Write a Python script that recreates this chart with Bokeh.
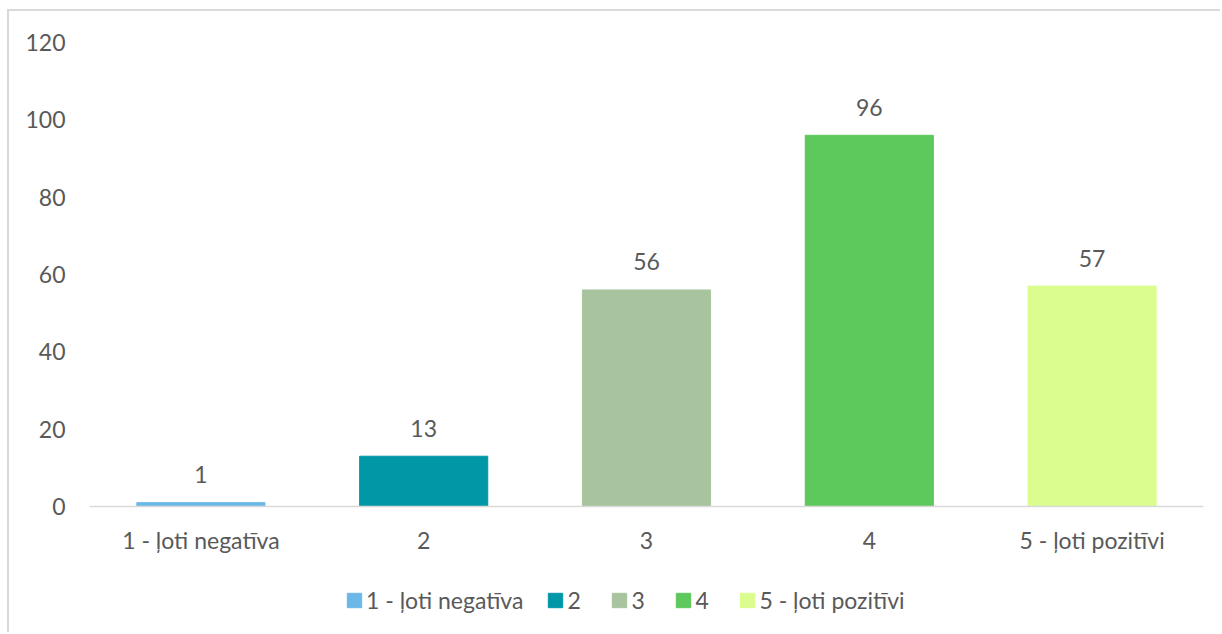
from bokeh.plotting import figure
from bokeh.models import ColumnDataSource, FactorRange, Range1d, Legend, LegendItem
from bokeh.core.properties import value
from bokeh.embed import file_html
from bokeh.resources import INLINE

categories = ["1 - ļoti negatīva", "2", "3", "4", "5 - ļoti pozitīvi"]
counts = [1, 13, 56, 96, 57]
colors = ["#6BB8E8", "#0097A7", "#A8C49E", "#5DC85B", "#DBFD8E"]
y_ticks = [0, 20, 40, 60, 80, 100, 120]

FONT = "Lato"
FS = "23px"
TXT = "#595959"

# layout (pixels)
W, H = 1213, 623
B_LEFT, B_RIGHT, B_TOP, B_BOTTOM = 80, 19, 31, 0
PX_PER_UNIT = 464 / 120.0
frame_h = H - B_TOP - B_BOTTOM
y_top = 120
y_bottom = y_top - frame_h / PX_PER_UNIT

src = ColumnDataSource(dict(cat=categories, val=counts, col=colors,
                            lab=[str(v) for v in counts]))

p = figure(width=W, height=H, x_range=FactorRange(*categories),
           y_range=Range1d(y_bottom, y_top), output_backend="svg", toolbar_location=None,
           min_border_left=B_LEFT, min_border_right=B_RIGHT, min_border_top=B_TOP,
           min_border_bottom=B_BOTTOM)
p.margin = (9, 0, 0, 7)
p.styles = {"border-top": "2px solid #d9d9d9", "border-left": "2px solid #d9d9d9"}
p.outline_line_color = None
p.xgrid.grid_line_color = None
p.ygrid.grid_line_color = None

r = p.vbar(x="cat", top="val", width=0.575, color="col", source=src)

p.text(x="cat", y="val", text="lab", source=src, text_align="center",
       text_baseline="middle", y_offset=-28, text_font=value(FONT),
       text_font_size=FS, text_color=TXT)

p.yaxis.ticker = y_ticks
p.yaxis.axis_line_color = None
p.yaxis.major_tick_line_color = None
p.yaxis.minor_tick_line_color = None
p.yaxis.major_label_standoff = 18
p.yaxis.major_label_text_font = FONT
p.yaxis.major_label_text_font_size = FS
p.yaxis.major_label_text_color = TXT

p.xaxis.fixed_location = 0
p.xaxis.axis_line_color = "#d9d9d9"
p.xaxis.axis_line_width = 1.5
p.xaxis.major_tick_line_color = None
p.xaxis.minor_tick_line_color = None
p.xaxis.major_label_standoff = 13
p.xaxis.major_label_text_font = FONT
p.xaxis.major_label_text_font_size = FS
p.xaxis.major_label_text_color = TXT

items = [LegendItem(label=c, renderers=[r], index=i) for i, c in enumerate(categories)]
legend = Legend(items=items, orientation="horizontal", location=(256, 20),
                glyph_width=18, glyph_height=18, label_standoff=3, spacing=23,
                label_text_font=FONT, label_text_font_size=FS, label_text_color=TXT,
                border_line_color=None, background_fill_alpha=0, margin=0, padding=6)
p.add_layout(legend, "center")

open("out.html", "w").write(file_html(p, INLINE))
